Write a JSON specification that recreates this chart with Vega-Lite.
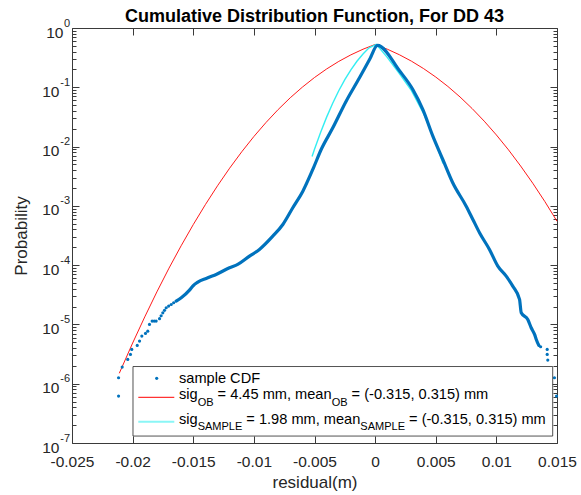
{
  "$schema": "https://vega.github.io/schema/vega-lite/v6.json",
  "autosize": {"type": "none"},
  "padding": {"left": 72, "top": 28, "right": 24, "bottom": 52},
  "width": 485,
  "height": 415,
  "background": "white",
  "config": {
    "view": {"stroke": null},
    "font": "Liberation Sans",
    "axis": {
      "grid": false,
      "labelFont": "Liberation Sans",
      "titleFont": "Liberation Sans",
      "domainColor": "#3a3a3a",
      "tickColor": "#3a3a3a",
      "labelColor": "#262626",
      "titleColor": "#262626",
      "labelFlush": false,
      "labelOverlap": false,
      "labelBound": false,
      "domainWidth": 1,
      "tickWidth": 1
    }
  },
  "title": {
    "text": "Cumulative Distribution Function, For DD 43",
    "font": "Liberation Sans",
    "fontSize": 18,
    "fontWeight": "bold",
    "color": "#000000",
    "offset": -23,
    "baseline": "alphabetic",
    "anchor": "middle",
    "frame": "group"
  },
  "datasets": {
    "red": [
      {"x": -0.0211, "p": 1.5e-6}, {"x": -0.020, "p": 4.85e-6}, {"x": -0.019, "p": 1.34e-5},
      {"x": -0.018, "p": 3.54e-5}, {"x": -0.017, "p": 8.9e-5}, {"x": -0.016, "p": 2.12e-4},
      {"x": -0.015, "p": 4.83e-4}, {"x": -0.014, "p": 1.05e-3}, {"x": -0.013, "p": 2.18e-3},
      {"x": -0.012, "p": 4.32e-3}, {"x": -0.011, "p": 8.17e-3}, {"x": -0.010, "p": 0.01478},
      {"x": -0.009, "p": 0.02548}, {"x": -0.008, "p": 0.0421}, {"x": -0.007, "p": 0.0666},
      {"x": -0.006, "p": 0.1006}, {"x": -0.005, "p": 0.1462}, {"x": -0.004, "p": 0.2038},
      {"x": -0.003, "p": 0.2731}, {"x": -0.002, "p": 0.3525}, {"x": -0.001, "p": 0.4388},
      {"x": 0.0, "p": 0.528}, {"x": 0.001, "p": 0.4396}, {"x": 0.002, "p": 0.354},
      {"x": 0.003, "p": 0.2754}, {"x": 0.004, "p": 0.2064}, {"x": 0.005, "p": 0.1489},
      {"x": 0.006, "p": 0.1033}, {"x": 0.007, "p": 0.0687}, {"x": 0.008, "p": 0.0438},
      {"x": 0.009, "p": 0.0268}, {"x": 0.010, "p": 0.0157}, {"x": 0.011, "p": 0.0088},
      {"x": 0.012, "p": 0.0047}, {"x": 0.013, "p": 0.00241}, {"x": 0.014, "p": 0.00118},
      {"x": 0.015, "p": 5.5e-4}
    ],
    "cyan": [
      {"x": -0.0052, "p": 6.82e-3}, {"x": -0.005, "p": 8.98e-3}, {"x": -0.0045, "p": 0.01727},
      {"x": -0.004, "p": 0.03137}, {"x": -0.0035, "p": 0.0538}, {"x": -0.003, "p": 0.0875},
      {"x": -0.0025, "p": 0.1349}, {"x": -0.002, "p": 0.1974}, {"x": -0.0015, "p": 0.2749},
      {"x": -0.001, "p": 0.3647}, {"x": -0.0005, "p": 0.4628}, {"x": 0.0001, "p": 0.53},
      {"x": 0.001, "p": 0.32}, {"x": 0.002, "p": 0.17}, {"x": 0.003, "p": 0.088},
      {"x": 0.004, "p": 0.036}, {"x": 0.005, "p": 0.0115}, {"x": 0.0056, "p": 5.2e-3}
    ],
    "sample_line": [
      {"x": -0.01641, "p": 2.47e-5}, {"x": -0.01599, "p": 2.82e-5}, {"x": -0.01531, "p": 3.79e-5},
      {"x": -0.01504, "p": 4.43e-5}, {"x": -0.0138, "p": 6.13e-5}, {"x": -0.01311, "p": 6.97e-5},
      {"x": -0.01201, "p": 9.03e-5}, {"x": -0.01133, "p": 1.03e-4}, {"x": -0.01036, "p": 1.42e-4},
      {"x": -0.00954, "p": 1.84e-4}, {"x": -0.00844, "p": 3.08e-4}, {"x": -0.00761, "p": 4.85e-4},
      {"x": -0.00679, "p": 9.28e-4}, {"x": -0.00596, "p": 1.77e-3}, {"x": -0.00514, "p": 4.11e-3},
      {"x": -0.00445, "p": 8.93e-3}, {"x": -0.00349, "p": 0.0207}, {"x": -0.00239, "p": 0.0583},
      {"x": -0.00129, "p": 0.1446}, {"x": -0.00046, "p": 0.294}, {"x": 0.0002, "p": 0.51},
      {"x": 0.00201, "p": 0.19}, {"x": 0.00311, "p": 0.0918},
      {"x": 0.00393, "p": 0.0423},
      {"x": 0.00476, "p": 0.015}, {"x": 0.00558, "p": 6.06e-3}, {"x": 0.0064, "p": 2.45e-3},
      {"x": 0.00751, "p": 9.89e-4}, {"x": 0.00806, "p": 5.9e-4}, {"x": 0.00861, "p": 3.52e-4},
      {"x": 0.00943, "p": 1.84e-4}, {"x": 0.01012, "p": 9.62e-5}, {"x": 0.01081, "p": 6.52e-5},
      {"x": 0.01135, "p": 4.43e-5}, {"x": 0.01191, "p": 2.64e-5}, {"x": 0.01205, "p": 1.57e-5},
      {"x": 0.01259, "p": 1.21e-5}, {"x": 0.01287, "p": 8.79e-6}, {"x": 0.01315, "p": 6.78e-6},
      {"x": 0.01329, "p": 5.58e-6}, {"x": 0.0135, "p": 4.42e-6}
    ],
    "sample_dots": [
      {"x": -0.02116, "p": 6.18e-7}, {"x": -0.02116, "p": 1.26e-6}, {"x": -0.02086, "p": 1.91e-6},
      {"x": -0.0204, "p": 2.57e-6}, {"x": -0.02018, "p": 3.12e-6}, {"x": -0.02007, "p": 3.79e-6},
      {"x": -0.01962, "p": 4.42e-6}, {"x": -0.01943, "p": 5.23e-6}, {"x": -0.01924, "p": 6.35e-6},
      {"x": -0.01894, "p": 7.05e-6}, {"x": -0.01875, "p": 7.7e-6}, {"x": -0.01861, "p": 1.0e-5},
      {"x": -0.01839, "p": 1.14e-5}, {"x": -0.01822, "p": 1.14e-5}, {"x": -0.01806, "p": 1.14e-5},
      {"x": -0.01778, "p": 1.25e-5}, {"x": -0.01765, "p": 1.4e-5}, {"x": -0.01751, "p": 1.57e-5},
      {"x": -0.01737, "p": 1.73e-5}, {"x": -0.01723, "p": 1.91e-5}, {"x": -0.01703, "p": 2.04e-5},
      {"x": -0.01682, "p": 2.17e-5}, {"x": -0.01662, "p": 2.32e-5},
      {"x": 0.01365, "p": 4.2e-6}, {"x": 0.01419, "p": 3.79e-6}, {"x": 0.01419, "p": 3.12e-6},
      {"x": 0.01424, "p": 2.5e-6}, {"x": 0.01479, "p": 1.26e-6}, {"x": 0.01496, "p": 6.18e-7}
    ],
    "legend_box": [{"x1": -0.01997, "x2": 0.014645, "p1": 1.95e-6, "p2": 1.31e-7}],
    "legend_lines": [
      {"x1": -0.019532, "x2": -0.016563, "p": 5.9e-7, "series": "OB"},
      {"x1": -0.019532, "x2": -0.016563, "p": 2.29e-7, "series": "SAMPLE"}
    ],
    "legend_dot": [{"x": -0.018014, "p": 1.234e-6}],
    "legend_text": [
      {"x": -0.016175, "p": 1.028e-6, "t": "sample CDF"},
      {"x": -0.016175, "p": 5.42e-7, "t": "sig"},
      {"x": -0.012992, "p": 5.42e-7, "t": "= 4.45 mm, mean"},
      {"x": -0.00194, "p": 5.42e-7, "t": "= (-0.315, 0.315) mm"},
      {"x": -0.016175, "p": 2.07e-7, "t": "sig"},
      {"x": -0.010621, "p": 2.07e-7, "t": "= 1.98 mm, mean"},
      {"x": 0.002798, "p": 2.07e-7, "t": "= (-0.315, 0.315) mm"}
    ],
    "legend_sub": [
      {"x": -0.014636, "p": 4.29e-7, "t": "OB"},
      {"x": -0.003587, "p": 4.29e-7, "t": "OB"},
      {"x": -0.014636, "p": 1.66e-7, "t": "SAMPLE"},
      {"x": -0.001218, "p": 1.66e-7, "t": "SAMPLE"}
    ]
  },
  "resolve": {"axis": {"x": "independent", "y": "independent"}},
  "layer": [
    {
      "data": {"name": "red"},
      "mark": {"type": "line", "color": "#ff0000", "strokeWidth": 0.9},
      "encoding": {
        "x": {"field": "x", "type": "quantitative",
          "scale": {"domain": [-0.025, 0.015], "nice": false, "zero": false},
          "axis": {"orient": "bottom", "values": [-0.025, -0.02, -0.015, -0.01, -0.005, 0, 0.005, 0.01, 0.015],
            "tickSize": -7, "labels": false, "domain": true,
            "title": "residual(m)", "titleFontSize": 17, "titleFontWeight": "normal",
            "titleY": 44, "titleBaseline": "alphabetic"}},
        "y": {"field": "p", "type": "quantitative",
          "scale": {"type": "log", "domain": [1e-7, 1], "nice": false},
          "axis": {"orient": "left",
            "values": [1e-7, 2e-7, 3e-7, 4e-7, 5e-7, 6e-7, 7e-7, 8e-7, 9e-7,
              1e-6, 2e-6, 3e-6, 4e-6, 5e-6, 6e-6, 7e-6, 8e-6, 9e-6,
              1e-5, 2e-5, 3e-5, 4e-5, 5e-5, 6e-5, 7e-5, 8e-5, 9e-5,
              1e-4, 2e-4, 3e-4, 4e-4, 5e-4, 6e-4, 7e-4, 8e-4, 9e-4,
              1e-3, 2e-3, 3e-3, 4e-3, 5e-3, 6e-3, 7e-3, 8e-3, 9e-3,
              0.01, 0.02, 0.03, 0.04, 0.05, 0.06, 0.07, 0.08, 0.09,
              0.1, 0.2, 0.3, 0.4, 0.5, 0.6, 0.7, 0.8, 0.9, 1],
            "tickSize": {"condition": {"test": "abs(log(datum.value)/LN10 - round(log(datum.value)/LN10)) < 0.001", "value": -7}, "value": -4},
            "labels": false, "domain": true,
            "title": "Probability", "titleFontSize": 17, "titleFontWeight": "normal",
            "titleAngle": 270, "titleAlign": "center", "titleBaseline": "alphabetic",
            "titleX": -46, "titleY": 207.5}}
      }
    },
    {
      "data": {"name": "cyan"},
      "mark": {"type": "line", "color": "#33eef2", "strokeWidth": 1.4},
      "encoding": {
        "x": {"field": "x", "type": "quantitative",
          "scale": {"domain": [-0.025, 0.015], "nice": false, "zero": false},
          "axis": {"orient": "bottom", "values": [-0.025, -0.02, -0.015, -0.01, -0.005, 0, 0.005, 0.01, 0.015],
            "ticks": false, "domain": false, "labelFontSize": 15.5, "labelPadding": 11,
            "labelExpr": "replace(format(datum.value, '.3~f'), '\u2212', '-')", "title": null}},
        "y": {"field": "p", "type": "quantitative",
          "scale": {"type": "log", "domain": [1e-7, 1], "nice": false},
          "axis": {"orient": "left", "values": [1e-7, 1e-6, 1e-5, 1e-4, 1e-3, 0.01, 0.1, 1],
            "ticks": false, "domain": false, "labelExpr": "'10'", "labelFontSize": 15.5,
            "labelAlign": "right", "labelBaseline": "middle", "labelOffset": 4,
            "labelPadding": {"condition": {"test": "datum.value > 0.5", "value": 9}, "value": 13},
            "title": null}}
      }
    },
    {
      "data": {"name": "sample_line"},
      "mark": {"type": "line", "color": "#0072bd", "strokeWidth": 3.2, "strokeCap": "round", "strokeJoin": "round", "interpolate": "monotone"},
      "encoding": {
        "x": {"field": "x", "type": "quantitative",
          "scale": {"domain": [-0.025, 0.015], "nice": false, "zero": false},
          "axis": {"orient": "top", "values": [-0.025, -0.02, -0.015, -0.01, -0.005, 0, 0.005, 0.01, 0.015],
            "tickSize": -7, "labels": false, "domain": true, "title": null}},
        "y": {"field": "p", "type": "quantitative",
          "scale": {"type": "log", "domain": [1e-7, 1], "nice": false},
          "axis": {"orient": "left", "values": [1e-7, 1e-6, 1e-5, 1e-4, 1e-3, 0.01, 0.1, 1],
            "ticks": false, "domain": false,
            "labelExpr": "datum.value > 0.5 ? '0' : '-' + round(-log(datum.value)/LN10)",
            "labelFontSize": 11, "labelAlign": "right", "labelBaseline": "middle",
            "labelOffset": -5, "labelPadding": 2.5, "title": null}}
      }
    },
    {
      "data": {"name": "sample_dots"},
      "mark": {"type": "point", "filled": true, "shape": "circle", "size": 10, "color": "#0072bd", "opacity": 1},
      "encoding": {
        "x": {"field": "x", "type": "quantitative",
          "scale": {"domain": [-0.025, 0.015], "nice": false, "zero": false}, "axis": null},
        "y": {"field": "p", "type": "quantitative",
          "scale": {"type": "log", "domain": [1e-7, 1], "nice": false},
          "axis": {"orient": "right",
            "values": [1e-7, 2e-7, 3e-7, 4e-7, 5e-7, 6e-7, 7e-7, 8e-7, 9e-7,
              1e-6, 2e-6, 3e-6, 4e-6, 5e-6, 6e-6, 7e-6, 8e-6, 9e-6,
              1e-5, 2e-5, 3e-5, 4e-5, 5e-5, 6e-5, 7e-5, 8e-5, 9e-5,
              1e-4, 2e-4, 3e-4, 4e-4, 5e-4, 6e-4, 7e-4, 8e-4, 9e-4,
              1e-3, 2e-3, 3e-3, 4e-3, 5e-3, 6e-3, 7e-3, 8e-3, 9e-3,
              0.01, 0.02, 0.03, 0.04, 0.05, 0.06, 0.07, 0.08, 0.09,
              0.1, 0.2, 0.3, 0.4, 0.5, 0.6, 0.7, 0.8, 0.9, 1],
            "tickSize": {"condition": {"test": "abs(log(datum.value)/LN10 - round(log(datum.value)/LN10)) < 0.001", "value": -7}, "value": -4},
            "labels": false, "domain": true, "title": null}}
      }
    },
    {
      "data": {"name": "legend_box"},
      "mark": {"type": "rect", "fill": "white", "stroke": "#262626", "strokeWidth": 0.8},
      "encoding": {
        "x": {"field": "x1", "type": "quantitative",
          "scale": {"domain": [-0.025, 0.015], "nice": false, "zero": false}, "axis": null},
        "x2": {"field": "x2"},
        "y": {"field": "p1", "type": "quantitative",
          "scale": {"type": "log", "domain": [1e-7, 1], "nice": false}, "axis": null},
        "y2": {"field": "p2"}
      }
    },
    {
      "data": {"name": "legend_lines"},
      "transform": [{"filter": "datum.series == 'OB'"}],
      "mark": {"type": "rule", "color": "#ff0000", "strokeWidth": 1},
      "encoding": {
        "x": {"field": "x1", "type": "quantitative",
          "scale": {"domain": [-0.025, 0.015], "nice": false, "zero": false}, "axis": null},
        "x2": {"field": "x2"},
        "y": {"field": "p", "type": "quantitative",
          "scale": {"type": "log", "domain": [1e-7, 1], "nice": false}, "axis": null}
      }
    },
    {
      "data": {"name": "legend_lines"},
      "transform": [{"filter": "datum.series == 'SAMPLE'"}],
      "mark": {"type": "rule", "color": "#8af6f6", "strokeWidth": 2},
      "encoding": {
        "x": {"field": "x1", "type": "quantitative",
          "scale": {"domain": [-0.025, 0.015], "nice": false, "zero": false}, "axis": null},
        "x2": {"field": "x2"},
        "y": {"field": "p", "type": "quantitative",
          "scale": {"type": "log", "domain": [1e-7, 1], "nice": false}, "axis": null}
      }
    },
    {
      "data": {"name": "legend_dot"},
      "mark": {"type": "point", "filled": true, "shape": "circle", "size": 10, "color": "#0072bd", "opacity": 1},
      "encoding": {
        "x": {"field": "x", "type": "quantitative",
          "scale": {"domain": [-0.025, 0.015], "nice": false, "zero": false}, "axis": null},
        "y": {"field": "p", "type": "quantitative",
          "scale": {"type": "log", "domain": [1e-7, 1], "nice": false}, "axis": null}
      }
    },
    {
      "data": {"name": "legend_text"},
      "mark": {"type": "text", "align": "left", "baseline": "alphabetic", "fontSize": 14.6, "font": "Liberation Sans", "color": "#000000"},
      "encoding": {
        "x": {"field": "x", "type": "quantitative",
          "scale": {"domain": [-0.025, 0.015], "nice": false, "zero": false}, "axis": null},
        "y": {"field": "p", "type": "quantitative",
          "scale": {"type": "log", "domain": [1e-7, 1], "nice": false}, "axis": null},
        "text": {"field": "t"}
      }
    },
    {
      "data": {"name": "legend_sub"},
      "mark": {"type": "text", "align": "left", "baseline": "alphabetic", "fontSize": 11, "font": "Liberation Sans", "color": "#000000"},
      "encoding": {
        "x": {"field": "x", "type": "quantitative",
          "scale": {"domain": [-0.025, 0.015], "nice": false, "zero": false}, "axis": null},
        "y": {"field": "p", "type": "quantitative",
          "scale": {"type": "log", "domain": [1e-7, 1], "nice": false}, "axis": null},
        "text": {"field": "t"}
      }
    }
  ]
}
